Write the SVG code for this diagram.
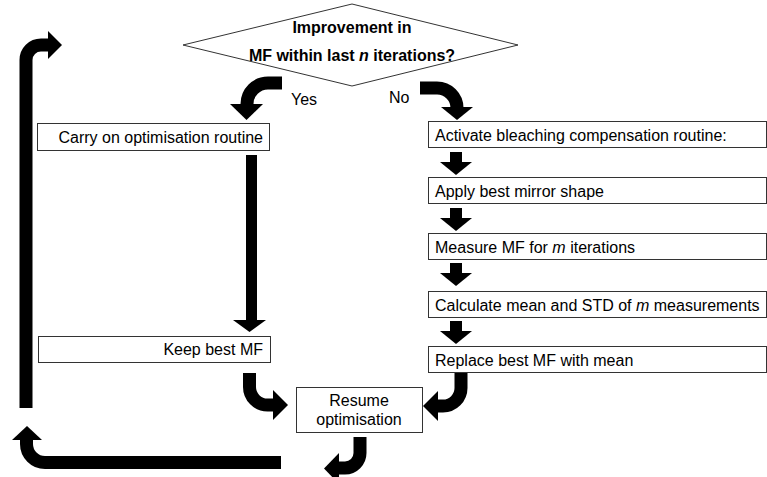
<svg xmlns="http://www.w3.org/2000/svg" width="767" height="477" viewBox="0 0 767 477">
  <style>
    .box { fill: #fff; stroke: #333; stroke-width: 1; }
    .dia { fill: #fff; stroke: #333; stroke-width: 1; }
    .t { font-family: "Liberation Sans", Arial, sans-serif; font-size: 16px; fill: #000; }
    .b { font-weight: bold; }
    .band { fill: none; stroke: #000; stroke-width: 13; stroke-linecap: butt; stroke-linejoin: miter; }
    .head { fill: #000; }
  </style>

  <!-- Decision -->
  <g id="decision">
    <polygon class="dia" points="183,45 352,4 518,45 352,86"/>
    <text class="t b" x="352" y="33" text-anchor="middle">Improvement in</text>
    <text class="t b" x="352" y="61" text-anchor="middle">MF within last <tspan font-style="italic">n</tspan> iterations?</text>
  </g>

  <!-- Left branch -->
  <g id="carry-on">
    <rect class="box" x="37.5" y="123.5" width="232" height="27"/>
    <text class="t" x="263" y="143" text-anchor="end">Carry on optimisation routine</text>
  </g>
  <g id="keep-best">
    <rect class="box" x="38.5" y="336.5" width="232" height="26"/>
    <text class="t" x="263" y="355" text-anchor="end">Keep best MF</text>
  </g>

  <!-- Right branch -->
  <g id="activate">
    <rect class="box" x="428.5" y="121.5" width="338" height="26"/>
    <text class="t" x="435" y="141">Activate bleaching compensation routine:</text>
  </g>
  <g id="apply-shape">
    <rect class="box" x="428.5" y="177.5" width="338" height="26"/>
    <text class="t" x="435" y="197">Apply best mirror shape</text>
  </g>
  <g id="measure">
    <rect class="box" x="428.5" y="233.5" width="338" height="26"/>
    <text class="t" x="435" y="253">Measure MF for <tspan font-style="italic">m</tspan> iterations</text>
  </g>
  <g id="calculate">
    <rect class="box" x="428.5" y="291.5" width="338" height="26"/>
    <text class="t" x="435" y="311">Calculate mean and STD of <tspan font-style="italic">m</tspan> measurements</text>
  </g>
  <g id="replace">
    <rect class="box" x="428.5" y="346.5" width="338" height="26"/>
    <text class="t" x="435" y="366">Replace best MF with mean</text>
  </g>

  <!-- Merge -->
  <g id="resume">
    <rect class="box" x="296.5" y="387.5" width="126" height="45"/>
    <text class="t" x="359" y="406" text-anchor="middle">Resume</text>
    <text class="t" x="359" y="425" text-anchor="middle">optimisation</text>
  </g>

  <!-- Branch labels -->
  <g id="labels">
    <text class="t" x="291" y="105">Yes</text>
    <text class="t" x="389" y="103">No</text>
  </g>

  <!-- Connectors -->
  <g id="connectors">
    <!-- Yes -->
    <path class="band" d="M282,83 H268 A21,21 0 0 0 247,104 V105"/>
    <polygon class="head" points="230,104 263,104 246.5,120"/>
    <!-- No -->
    <path class="band" d="M420,88 H437 A20,20 0 0 1 457,108"/>
    <polygon class="head" points="441,107 473,107 457,120"/>

    <!-- Carry on -> Keep best MF -->
    <rect class="head" x="246" y="155" width="11" height="166"/>
    <polygon class="head" points="233,320 266,320 249.5,332"/>

    <!-- Right chain -->
    <rect class="head" x="450" y="152" width="12" height="11"/>
    <polygon class="head" points="440,162 472,162 456,175"/>
    <rect class="head" x="450" y="208" width="12" height="11"/>
    <polygon class="head" points="440,218 472,218 456,231"/>
    <rect class="head" x="450" y="263" width="12" height="11"/>
    <polygon class="head" points="440,273 472,273 456,286"/>
    <rect class="head" x="450" y="321" width="12" height="11"/>
    <polygon class="head" points="440,331 472,331 456,344"/>

    <!-- Keep best MF -> Resume -->
    <path class="band" d="M249.5,373 V387 A18,18 0 0 0 267.5,405 H274"/>
    <polygon class="head" points="273,390 273,420 288,405"/>
    <!-- Replace -> Resume -->
    <path class="band" d="M461,373 V388 A18,18 0 0 1 443,406 H437"/>
    <polygon class="head" points="438,391 438,421 423,406"/>

    <!-- Resume -> loop back -->
    <path class="band" d="M360,437 V453 A15,15 0 0 1 345,468 H338"/>
    <polygon class="head" points="339,453 339,484 324,468.5"/>

    <!-- Bottom return -->
    <path class="band" d="M281,462.5 H45 A18.5,18.5 0 0 1 26.5,444 V439"/>
    <polygon class="head" points="12,440 42,440 27,426"/>
    <!-- Left return up to the decision -->
    <path class="band" d="M26,408 V60 A15,15 0 0 1 41,45 H49"/>
    <polygon class="head" points="48,31 48,59 62,45"/>
  </g>
</svg>
